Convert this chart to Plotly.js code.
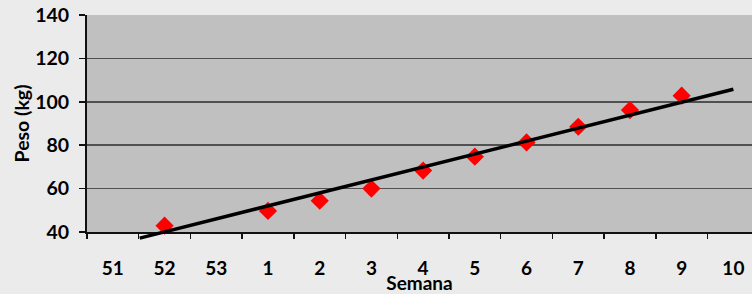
<!DOCTYPE html>
<html>
<head>
<meta charset="utf-8">
<script src="https://cdn.plot.ly/plotly-3.0.1.min.js"></script>
<style>html,body{margin:0;padding:0;background:#ebebeb;}#chart{width:752px;height:294px;}</style>
</head>
<body>
<div id="chart"></div>
<script>
// Data
const categories = ['51','52','53','1','2','3','4','5','6','7','8','9','10'];
const pesoValues = [null, 42.9, null, 49.7, 54.4, 60.0, 68.3, 74.7, 81.3, 88.5, 96.2, 102.8, null];
// Trend line endpoints (category position, value)
const trendPos = [0.52, 12];
const trendValues = [37.2, 105.8];
const yTicks = [40, 60, 80, 100, 120, 140];

const idx = categories.map((c, i) => i);
const font = "Lato, 'Open Sans', sans-serif";

const xRange = [-0.5, 12.36];
const plotH = 227;          // total plot height (px) incl. extension below axis
const extPx = 10;           // extension below the y=40 axis for trendline overflow
const pxPerUnit = (plotH - extPx) / 100;

const data = [
  {
    x: idx, y: pesoValues, type: 'scatter', mode: 'markers',
    marker: {symbol: 'diamond', size: 14, color: '#ff0000'},
    xaxis: 'x', yaxis: 'y', cliponaxis: false, hoverinfo: 'skip'
  },
  {
    x: trendPos, y: trendValues, type: 'scatter', mode: 'lines',
    line: {color: '#000000', width: 3.5},
    xaxis: 'x2', yaxis: 'y2', hoverinfo: 'skip'
  }
];

const layout = {
  width: 752, height: 294,
  margin: {l: 87, r: 0, t: 15, b: 294 - 15 - plotH},
  paper_bgcolor: '#ebebeb',
  plot_bgcolor: 'rgba(0,0,0,0)',
  showlegend: false,
  font: {family: font, color: '#000', size: 17},
  xaxis: {
    domain: [0, 1],
    range: xRange,
    tickmode: 'array', tickvals: idx, ticktext: categories,
    ticks: 'outside', ticklen: 18, tickcolor: 'rgba(0,0,0,0)',
    tickfont: {family: font, size: 19, color: '#000', weight: 'bold'},
    minor: {tick0: 0.5, dtick: 1, ticks: 'outside', ticklen: 5, tickcolor: '#111', tickwidth: 1.5, showgrid: false},
    showline: true, linecolor: '#111', linewidth: 2,
    showgrid: false, zeroline: false, fixedrange: true,
    anchor: 'y',
    title: {text: 'Semana', font: {family: font, size: 19, color: '#000', weight: 'bold'}, standoff: 0}
  },
  yaxis: {
    domain: [extPx / plotH, 1],
    range: [40, 140],
    tickmode: 'array', tickvals: yTicks,
    ticks: 'outside', ticklen: 6, tickcolor: '#111', tickwidth: 1.5,
    ticklabelstandoff: 6,
    tickfont: {family: font, size: 19.5, color: '#000', weight: 'bold'},
    showline: true, linecolor: '#111', linewidth: 2,
    showgrid: true, gridcolor: '#505050', gridwidth: 1.5,
    zeroline: false, fixedrange: true,
    anchor: 'x',
    title: {text: 'Peso (kg)', font: {family: font, size: 19.5, color: '#000', weight: 'bold'}, standoff: 0}
  },
  xaxis2: {
    domain: [0, 1], range: xRange, anchor: 'y2', visible: false, fixedrange: true
  },
  yaxis2: {
    domain: [0, 1], range: [40 - extPx / pxPerUnit, 140], anchor: 'x2', visible: false, fixedrange: true
  },
  shapes: [
    {type: 'rect', xref: 'x domain', yref: 'y domain', x0: 0, x1: 1, y0: 0, y1: 1,
     fillcolor: '#c0c0c0', line: {width: 0}, layer: 'below'}
  ]
};

Plotly.newPlot('chart', data, layout, {displayModeBar: false, staticPlot: true});
</script>
</body>
</html>
